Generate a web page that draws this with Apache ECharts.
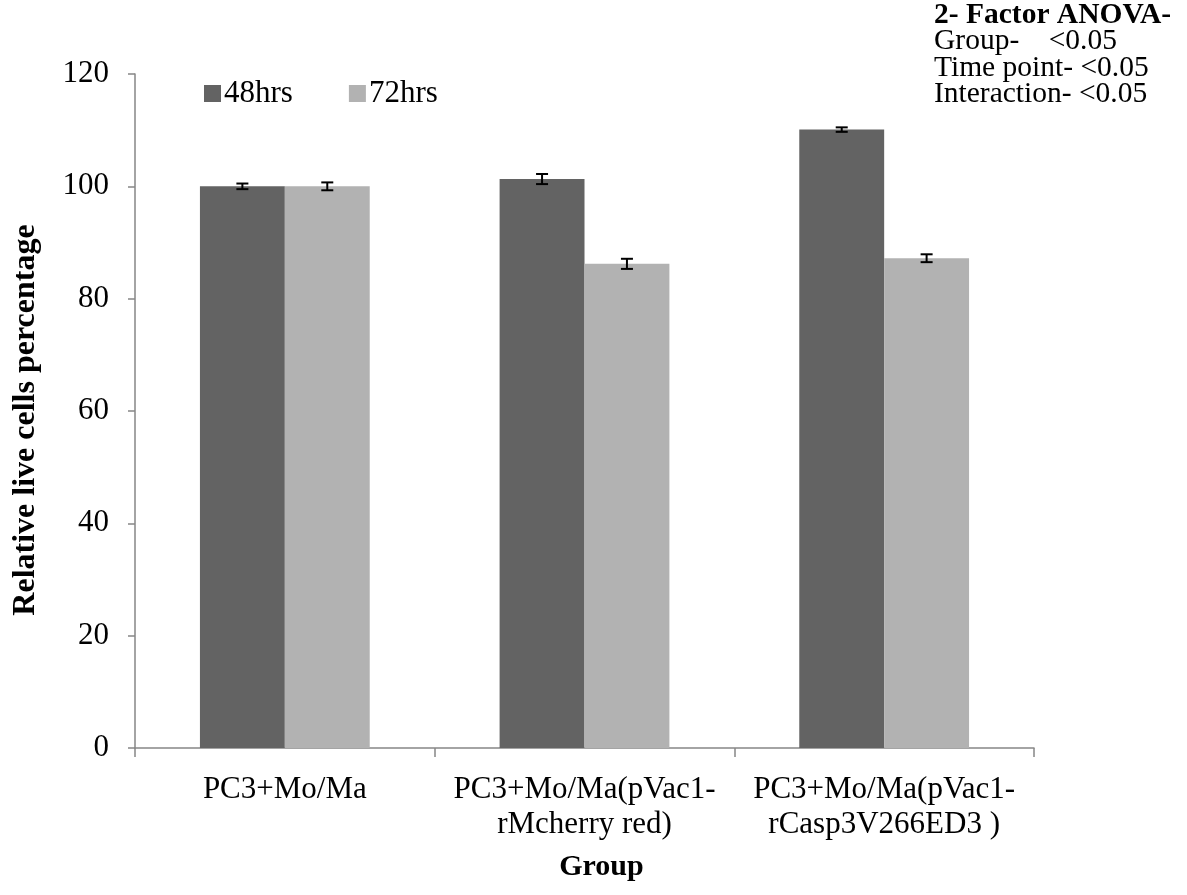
<!DOCTYPE html>
<html>
<head>
<meta charset="utf-8">
<style>
  html, body { margin: 0; padding: 0; background: #fff; }
  #chart { width: 1187px; height: 895px; }
</style>
<script src="https://cdn.jsdelivr.net/npm/echarts@6/dist/echarts.min.js"></script>
</head>
<body>
<div id="chart"></div>
<script>
// Groups on the x axis
const categories = [
  'PC3+Mo/Ma',
  'PC3+Mo/Ma(pVac1-\nrMcherry red)',
  'PC3+Mo/Ma(pVac1-\nrCasp3V266ED3 )'
];
// Relative live cells (%) per time point, with error (± half-range)
const series48 = [100.0, 101.3, 110.1];
const error48 = [0.5, 0.9, 0.4];
const series72 = [100.0, 86.2, 87.2];
const error72 = [0.7, 0.9, 0.7];
const seriesNames = ['48hrs', '72hrs'];
const yTicks = { min: 0, max: 120, interval: 20 };
const anovaLines = [
  '2- Factor ANOVA-',
  'Group-    <0.05',
  'Time point- <0.05',
  'Interaction- <0.05'
];

const FONT = '"Liberation Serif", "Times New Roman", serif';
const DARK = '#636363';
const LIGHT = '#b2b2b2';
const AXIS = '#868686';

const chart = echarts.init(document.getElementById('chart'), null, { renderer: 'canvas' });

// Error bar drawn as a vertical whisker with caps, offset to its bar in the group
function errorBars(values, errors, offsetIndex) {
  return {
    type: 'custom',
    silent: true,
    z: 5,
    data: values.map((v, i) => [i, v - errors[i], v + errors[i]]),
    renderItem: function (params, api) {
      const band = api.size([1, 0])[0];
      const barW = band * 0.2833;
      const shift = (offsetIndex === 0 ? -0.5 : 0.5) * barW;
      const lo = api.coord([api.value(0), api.value(1)]);
      const hi = api.coord([api.value(0), api.value(2)]);
      const x = lo[0] + shift;
      const cap = 6;
      const style = { stroke: '#000', lineWidth: 2 };
      return {
        type: 'group',
        children: [
          { type: 'line', shape: { x1: x, y1: hi[1], x2: x, y2: lo[1] }, style },
          { type: 'line', shape: { x1: x - cap, y1: hi[1], x2: x + cap, y2: hi[1] }, style },
          { type: 'line', shape: { x1: x - cap, y1: lo[1], x2: x + cap, y2: lo[1] }, style }
        ]
      };
    }
  };
}

chart.setOption({
  animation: false,
  backgroundColor: '#ffffff',
  textStyle: { fontFamily: FONT },
  grid: { left: 135, right: 153, top: 74, bottom: 147, containLabel: false },
  legend: {
    left: 199,
    top: 73,
    itemWidth: 17,
    itemHeight: 17,
    itemGap: 56,
    icon: 'rect',
    textStyle: { fontFamily: FONT, fontSize: 31, color: '#000', padding: [0, 0, 0, -2] },
    data: seriesNames
  },
  xAxis: {
    type: 'category',
    data: categories,
    name: 'Group',
    nameLocation: 'middle',
    nameGap: 104,
    nameTextStyle: { fontFamily: FONT, fontSize: 30, fontWeight: 'bold', color: '#000', padding: [0, 0, 0, 34] },
    axisLine: { lineStyle: { color: AXIS, width: 1.5 } },
    axisTick: { show: true, length: 9, lineStyle: { color: AXIS, width: 1.5 } },
    axisLabel: {
      interval: 0,
      fontFamily: FONT, fontSize: 31, color: '#000', margin: 24,
      lineHeight: 35, align: 'center'
    },
    splitLine: { show: false }
  },
  yAxis: {
    type: 'value',
    min: yTicks.min,
    max: yTicks.max,
    interval: yTicks.interval,
    name: 'Relative live cells percentage',
    nameLocation: 'middle',
    nameRotate: 90,
    nameGap: 93,
    nameTextStyle: { fontFamily: FONT, fontSize: 32, fontWeight: 'bold', color: '#000', padding: [0, 18, 0, 0] },
    axisLine: { show: true, lineStyle: { color: AXIS, width: 1.5 } },
    axisTick: { show: true, inside: false, length: 7, lineStyle: { color: AXIS, width: 1.5 } },
    axisLabel: { fontFamily: FONT, fontSize: 31, color: '#000', margin: 26 },
    splitLine: { show: false }
  },
  series: [
    {
      name: seriesNames[0],
      type: 'bar',
      data: series48,
      barWidth: '28.33%',
      barGap: '0%',
      itemStyle: { color: DARK }
    },
    {
      name: seriesNames[1],
      type: 'bar',
      data: series72,
      barWidth: '28.33%',
      barGap: '0%',
      itemStyle: { color: LIGHT }
    },
    errorBars(series48, error48, 0),
    errorBars(series72, error72, 1)
  ],
  graphic: [
    {
      type: 'text',
      left: 934,
      top: 0,
      style: {
        text: '{b|' + anovaLines[0] + '}\n' + anovaLines.slice(1).join('\n'),
        fontFamily: FONT,
        fontSize: 29.5,
        lineHeight: 26.5,
        fill: '#000',
        rich: {
          b: { fontFamily: FONT, fontSize: 29.5, fontWeight: 'bold', lineHeight: 26.5 }
        }
      }
    }
  ]
});
</script>
</body>
</html>
